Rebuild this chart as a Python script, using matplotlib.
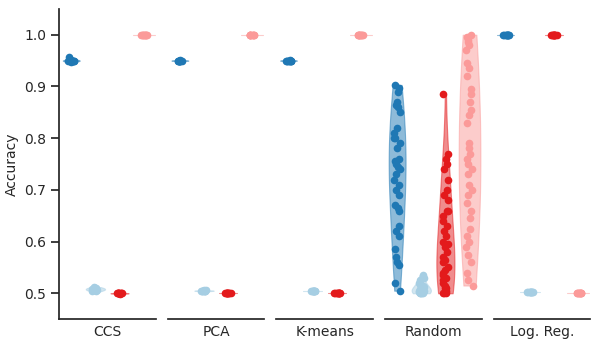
import numpy as np
import pandas as pd
import matplotlib
matplotlib.use('Agg')
import matplotlib.pyplot as plt
import seaborn as sns

np.random.seed(3)

methods = ['CCS', 'PCA', 'K-means', 'Random', 'Log. Reg.']
groups = ['a', 'b', 'c', 'd']
colors = ['#1f78b4', '#a6cee3', '#e31a1c', '#fb9a99']
widths = [0.7, 0.8, 0.75, 0.9]
bws = [1.4, 1.4, 1.4, 2.0]

# accuracy per method, per group (dark blue, light blue, dark red, light red)
ccs = [
    [0.95, 0.95, 0.95, 0.951, 0.949, 0.95, 0.952, 0.956, 0.95, 0.948],
    [0.508, 0.51, 0.505, 0.512, 0.507, 0.509, 0.504, 0.511, 0.506, 0.508],
    [0.5, 0.5, 0.501, 0.5, 0.499, 0.5, 0.501, 0.5, 0.5, 0.5],
    [1.0, 1.0, 1.0, 1.0, 1.0, 1.0, 1.0, 1.0, 1.0, 1.0],
]
pca = [
    [0.95, 0.95, 0.95, 0.95, 0.951, 0.95, 0.949, 0.95, 0.95, 0.95],
    [0.505, 0.505, 0.506, 0.504, 0.505, 0.505, 0.505, 0.506, 0.504, 0.505],
    [0.5, 0.5, 0.5, 0.5, 0.5, 0.5, 0.5, 0.5, 0.5, 0.5],
    [1.0, 1.0, 1.0, 1.0, 1.0, 1.0, 1.0, 1.0, 1.0, 1.0],
]
kmeans = [
    [0.95, 0.95, 0.95, 0.95, 0.951, 0.95, 0.949, 0.95, 0.95, 0.95],
    [0.505, 0.505, 0.505, 0.505, 0.505, 0.505, 0.505, 0.505, 0.505, 0.505],
    [0.5, 0.5, 0.5, 0.5, 0.5, 0.5, 0.5, 0.5, 0.5, 0.5],
    [1.0, 1.0, 1.0, 1.0, 1.0, 1.0, 1.0, 1.0, 1.0, 1.0],
]
random_ = [
    [0.903, 0.897, 0.89, 0.87, 0.865, 0.86, 0.85, 0.82, 0.81, 0.80, 0.80,
     0.79, 0.78, 0.76, 0.755, 0.75, 0.745, 0.74, 0.73, 0.72, 0.71, 0.70,
     0.69, 0.67, 0.665, 0.66, 0.63, 0.62, 0.61, 0.585, 0.57, 0.56, 0.555,
     0.52, 0.505],
    [0.535, 0.53, 0.525, 0.52, 0.517, 0.515, 0.512, 0.51, 0.51, 0.508,
     0.506, 0.505, 0.504, 0.503, 0.502, 0.501, 0.5, 0.5, 0.5, 0.5],
    [0.885, 0.77, 0.76, 0.75, 0.74, 0.72, 0.70, 0.69, 0.68, 0.66, 0.66,
     0.65, 0.64, 0.63, 0.62, 0.61, 0.60, 0.595, 0.59, 0.58, 0.57, 0.565,
     0.56, 0.55, 0.545, 0.54, 0.535, 0.53, 0.525, 0.52, 0.515, 0.51, 0.51,
     0.505, 0.505, 0.50, 0.50, 0.50],
    [1.0, 0.995, 0.99, 0.985, 0.98, 0.97, 0.945, 0.935, 0.92, 0.895, 0.885,
     0.87, 0.855, 0.845, 0.83, 0.79, 0.78, 0.77, 0.76, 0.75, 0.74, 0.73,
     0.71, 0.70, 0.69, 0.675, 0.66, 0.645, 0.625, 0.61, 0.60, 0.59, 0.575,
     0.56, 0.54, 0.525, 0.515],
]
logreg = [
    [1.0, 1.0, 1.0, 1.0, 1.0, 1.0, 1.0, 1.0, 1.0, 1.0],
    [0.503, 0.503, 0.503, 0.503, 0.503, 0.503, 0.503, 0.503, 0.503, 0.503],
    [1.0, 1.0, 1.0, 1.0, 1.0, 1.0, 1.0, 1.0, 1.0, 1.0],
    [0.5, 0.5, 0.5, 0.5, 0.5, 0.5, 0.5, 0.5, 0.5, 0.5],
]
all_data = [ccs, pca, kmeans, random_, logreg]

sns.set_theme(style='ticks')
plt.rcParams['font.family'] = ['DejaVu Sans']
plt.rcParams['font.size'] = 10

fig, axes = plt.subplots(1, 5, figsize=(5.98, 3.55), dpi=100, sharey=True)
fig.subplots_adjust(left=0.099, right=0.987, top=0.975, bottom=0.101, wspace=0.125)

for ax, name, data in zip(axes, methods, all_data):
    # violins, one group at a time so each gets its own colour
    for g, vals, c, w, bw in zip(groups, data, colors, widths, bws):
        df = pd.DataFrame({'group': g, 'acc': vals})
        n_coll = len(ax.collections)
        n_lines = len(ax.lines)
        sns.violinplot(data=df, x='group', y='acc', order=groups, color=c,
                       linecolor=c, saturation=1, cut=0, inner=None,
                       width=w, bw_adjust=bw, linewidth=0.8, ax=ax)
        for coll in ax.collections[n_coll:]:
            coll.set_alpha(0.5)
        for ln in ax.lines[n_lines:]:
            ln.set_alpha(0.5)
    for g, vals, c in zip(groups, data, colors):
        df = pd.DataFrame({'group': g, 'acc': vals})
        sns.stripplot(data=df, x='group', y='acc', order=groups, color=c,
                      jitter=0.13, size=5.5, ax=ax)
    ax.set_xlim(-0.5, 3.5)
    ax.set_ylim(0.45, 1.05)
    ax.set_xticks([])
    ax.set_xlabel(name, fontsize=10)
    ax.tick_params(axis='y', labelsize=10)
    sns.despine(ax=ax)
    if ax is not axes[0]:
        ax.spines['left'].set_visible(False)
        ax.tick_params(axis='y', left=False)
        ax.set_ylabel('')

axes[0].set_ylabel('Accuracy', fontsize=10)
axes[0].set_yticks([0.5, 0.6, 0.7, 0.8, 0.9, 1.0])

fig.savefig('out.png', dpi=100)
